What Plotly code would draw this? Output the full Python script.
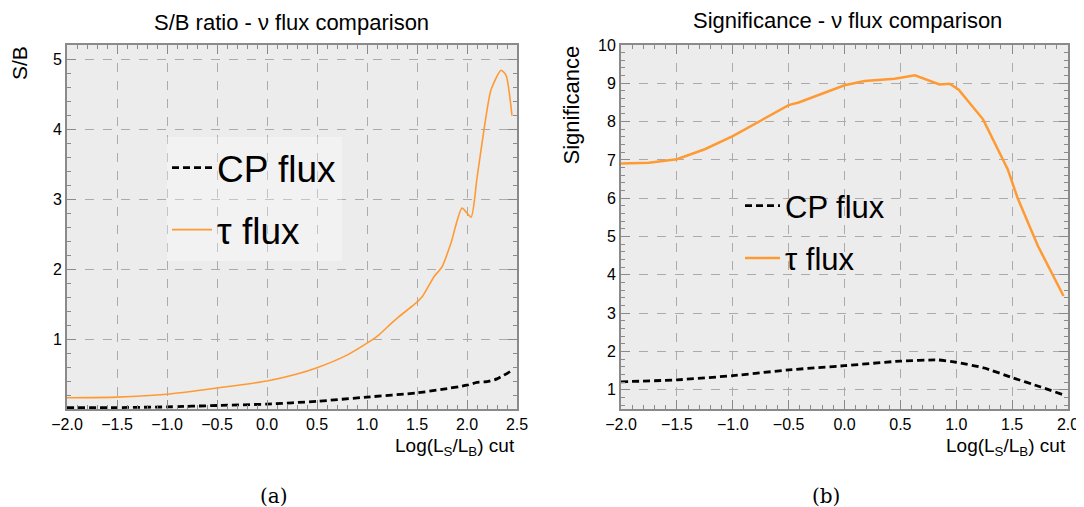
import plotly.graph_objects as go

# ---------------- data ----------------
# Left panel: S/B ratio vs Log(Ls/Lb) cut
sb_tau_x = [-2.0, -1.5, -1.0, -0.5, 0.0, 0.3, 0.5, 0.8, 1.0, 1.12, 1.24, 1.32, 1.47, 1.55,
            1.67, 1.75, 1.84, 1.95, 2.04, 2.1, 2.17, 2.24, 2.34, 2.39, 2.45]
sb_tau_y = [0.16, 0.17, 0.21, 0.30, 0.40, 0.50, 0.59, 0.77, 0.94, 1.06, 1.22, 1.32, 1.49, 1.60,
            1.89, 2.03, 2.37, 2.87, 2.74, 3.30, 3.99, 4.56, 4.84, 4.77, 4.19]
sb_cp_x = [-2.0, -1.5, -1.0, -0.5, 0.0, 0.5, 1.0, 1.5, 1.75, 2.0, 2.1, 2.2, 2.3, 2.45]
sb_cp_y = [0.02, 0.02, 0.03, 0.05, 0.07, 0.11, 0.17, 0.23, 0.28, 0.34, 0.38, 0.39, 0.43, 0.55]

# Right panel: Significance vs Log(Ls/Lb) cut
sig_tau_x = [-2.0, -1.75, -1.5, -1.25, -1.0, -0.75, -0.5, -0.41, -0.17, 0.0, 0.18, 0.45, 0.63,
             0.85, 0.94, 1.02, 1.24, 1.46, 1.55, 1.73, 1.96]
sig_tau_y = [6.91, 6.93, 7.02, 7.28, 7.62, 8.03, 8.43, 8.50, 8.76, 8.95, 9.06, 9.12, 9.21,
             8.97, 8.99, 8.84, 8.06, 6.76, 6.00, 4.76, 3.45]
sig_cp_x = [-2.0, -1.5, -1.0, -0.5, 0.0, 0.5, 0.84, 1.0, 1.25, 1.5, 1.75, 1.95]
sig_cp_y = [1.21, 1.26, 1.37, 1.52, 1.63, 1.75, 1.78, 1.72, 1.57, 1.32, 1.08, 0.88]

x_ticks_left = [-2.0, -1.5, -1.0, -0.5, 0.0, 0.5, 1.0, 1.5, 2.0, 2.5]
x_ticks_right = [-2.0, -1.5, -1.0, -0.5, 0.0, 0.5, 1.0, 1.5, 2.0]
y_ticks_left = [1, 2, 3, 4, 5]
y_ticks_right = [1, 2, 3, 4, 5, 6, 7, 8, 9, 10]

titles = ["S/B ratio - \u03bd flux comparison", "Significance - \u03bd flux comparison"]
y_titles = ["S/B", "Significance"]
x_title = "Log(L<sub>S</sub>/L<sub>B</sub>) cut"
captions = ["(a)", "(b)"]
series_names = ["CP flux", "\u03c4 flux"]

# ---------------- style ----------------
W, H = 1084, 507
OFF = 8  # page body margin
FW, FH = W - OFF, H - OFF
ORANGE = "#ff9a33"
FONT = "Liberation Sans, Arial, sans-serif"
SERIF = "DejaVu Serif, Liberation Serif, serif"
GRID = "#ababab"
FRAME = "#8a8a8a"
BG = "#ececec"

def px_x(p):
    return (p - OFF) / FW

def px_y(p):
    return 1 - (p - OFF) / FH

fig = go.Figure()

fig.add_trace(go.Scatter(x=sb_cp_x, y=sb_cp_y, mode="lines", name=series_names[0],
                         line=dict(color="black", width=2.8, dash="7px,4px", shape="spline", smoothing=0.5),
                         xaxis="x", yaxis="y", legend="legend", legendgroup="a1"))
fig.add_trace(go.Scatter(x=sb_tau_x, y=sb_tau_y, mode="lines", name=series_names[1],
                         line=dict(color=ORANGE, width=1.6, shape="spline", smoothing=0.6),
                         xaxis="x", yaxis="y", legend="legend", legendgroup="a2"))
fig.add_trace(go.Scatter(x=sig_cp_x, y=sig_cp_y, mode="lines", name=series_names[0],
                         line=dict(color="black", width=2.8, dash="7px,4px", shape="spline", smoothing=0.5),
                         xaxis="x2", yaxis="y2", legend="legend2", legendgroup="b1"))
fig.add_trace(go.Scatter(x=sig_tau_x, y=sig_tau_y, mode="lines", name=series_names[1],
                         line=dict(color=ORANGE, width=2.5),
                         xaxis="x2", yaxis="y2", legend="legend2", legendgroup="b2"))

axis_common = dict(showgrid=True, gridcolor=GRID, griddash="dash", gridwidth=1,
                   zeroline=False, showline=True, linecolor=FRAME, linewidth=2, mirror="allticks",
                   ticks="inside", ticklen=9, tickcolor=FRAME, tickwidth=1, automargin=False,
                   tickfont=dict(family=FONT, size=16, color="black"),
                   minor=dict(ticks="inside", ticklen=4, tickcolor=FRAME, showgrid=False))

fig.update_layout(
    width=FW, height=FH,
    margin=dict(l=0, r=0, t=0, b=0, autoexpand=False),
    paper_bgcolor="white", plot_bgcolor=BG,
    hovermode=False,
    font=dict(family=FONT, color="black", size=16),
    xaxis=dict(domain=[px_x(67), px_x(517)], range=[-2.0, 2.5], tickvals=x_ticks_left,
               tickformat=".1f", anchor="y", minor_dtick=0.1, **axis_common),
    yaxis=dict(domain=[px_y(409), px_y(45)], range=[0, 5.2], tickvals=y_ticks_left,
               anchor="x", minor_dtick=0.2, **axis_common),
    xaxis2=dict(domain=[px_x(621), px_x(1068)], range=[-2.0, 2.0], tickvals=x_ticks_right,
                tickformat=".1f", anchor="y2", minor_dtick=0.1, **axis_common),
    yaxis2=dict(domain=[px_y(409), px_y(45)], range=[0.5, 10], tickvals=y_ticks_right,
                anchor="x2", minor_dtick=0.2, **axis_common),
    legend=dict(x=px_x(167), y=px_y(137), xanchor="left", yanchor="top",
                bgcolor="rgba(255,255,255,0.3)", font=dict(family=FONT, size=37),
                tracegroupgap=11, itemwidth=40),
    legend2=dict(x=px_x(740), y=px_y(179), xanchor="left", yanchor="top",
                 bgcolor="rgba(0,0,0,0)", font=dict(family=FONT, size=31),
                 tracegroupgap=9, itemwidth=35),
)

ann = []
# titles
ann.append(dict(text=titles[0], x=px_x(291), y=px_y(22), xref="paper", yref="paper",
                showarrow=False, font=dict(size=22), xanchor="center", yanchor="middle"))
ann.append(dict(text=titles[1], x=px_x(847), y=px_y(20), xref="paper", yref="paper",
                showarrow=False, font=dict(size=22), xanchor="center", yanchor="middle"))
# y titles (top-aligned, rotated)
ann.append(dict(text=y_titles[0], x=px_x(20), y=px_y(44), xref="paper", yref="paper",
                showarrow=False, font=dict(size=21), textangle=-90, xanchor="center", yanchor="top"))
ann.append(dict(text=y_titles[1], x=px_x(571), y=px_y(44), xref="paper", yref="paper",
                showarrow=False, font=dict(size=22), textangle=-90, xanchor="center", yanchor="top"))
# x titles (right-aligned)
ann.append(dict(text=x_title, x=px_x(517), y=px_y(447), xref="paper", yref="paper",
                showarrow=False, font=dict(size=19), xanchor="right", yanchor="middle"))
ann.append(dict(text=x_title, x=px_x(1068), y=px_y(447), xref="paper", yref="paper",
                showarrow=False, font=dict(size=19), xanchor="right", yanchor="middle"))
# captions
ann.append(dict(text=captions[0], x=px_x(274), y=px_y(496), xref="paper", yref="paper",
                showarrow=False, font=dict(size=20, family=SERIF),
                xanchor="center", yanchor="middle"))
ann.append(dict(text=captions[1], x=px_x(826), y=px_y(496), xref="paper", yref="paper",
                showarrow=False, font=dict(size=20, family=SERIF),
                xanchor="center", yanchor="middle"))
fig.update_layout(annotations=ann)

fig.write_html("out.html")
